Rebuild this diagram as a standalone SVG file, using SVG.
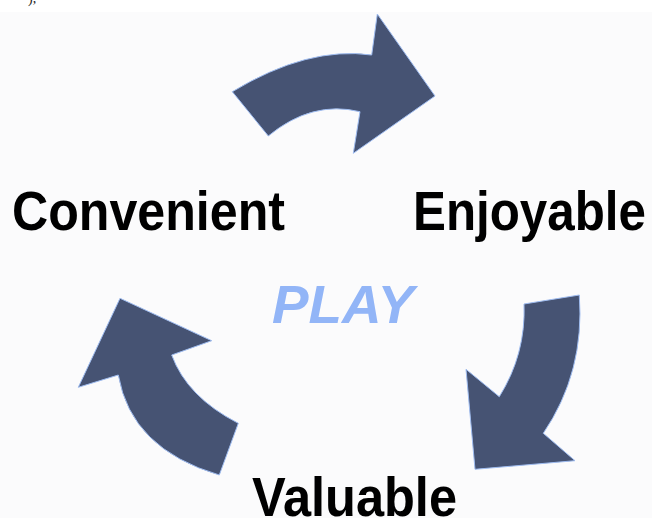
<svg xmlns="http://www.w3.org/2000/svg" width="652" height="518" viewBox="0 0 652 518">
  <style>
    .arrow { fill: #465373; stroke: #9fbcf0; stroke-width: 1; stroke-linejoin: miter; }
    .label { font-family: "Liberation Sans", Arial, sans-serif; font-weight: bold; font-size: 56px; fill: #000000; }
    .center { font-family: "Liberation Sans", Arial, sans-serif; font-weight: bold; font-style: italic; font-size: 53px; fill: #92b5f7; }
  </style>
  <rect x="0" y="0" width="652" height="518" fill="#ffffff"/>
  <rect x="0" y="12" width="652" height="506" fill="#fbfbfc"/>
  <text x="28" y="3" font-family="'Liberation Serif', serif" font-size="14" fill="#222222">),</text>

  <g id="connectors">
    <path id="arrow-top" class="arrow" d="M 232.3,91.7 Q 308,46 371.7,55 L 377.3,14 L 435,96 L 353.3,153.3 L 360,111.7 Q 312,100 268.3,136 Z"/>
    <path id="arrow-right" class="arrow" d="M 579.3,295 Q 585,372 543.3,433.3 L 575,460.7 L 475,469.3 L 466,369.3 L 499.3,396.7 Q 526,354 524,304 Z"/>
    <path id="arrow-left" class="arrow" d="M 78.3,387.3 L 120,298.3 L 211.7,340.7 L 171.7,355 Q 187,397 238.3,423.3 L 219.3,475 Q 131,449 118.3,375 Z"/>
  </g>

  <g id="node-convenient">
    <text class="label" x="12" y="230" textLength="273" lengthAdjust="spacingAndGlyphs">Convenient</text>
  </g>
  <g id="node-enjoyable">
    <text class="label" x="413" y="230" textLength="233" lengthAdjust="spacingAndGlyphs">Enjoyable</text>
  </g>
  <g id="node-valuable">
    <text class="label" x="252" y="516" font-size="50" textLength="205" lengthAdjust="spacingAndGlyphs">Valuable</text>
  </g>
  <g id="node-play">
    <text class="center" x="272" y="323" textLength="142" lengthAdjust="spacingAndGlyphs">PLAY</text>
  </g>
</svg>
